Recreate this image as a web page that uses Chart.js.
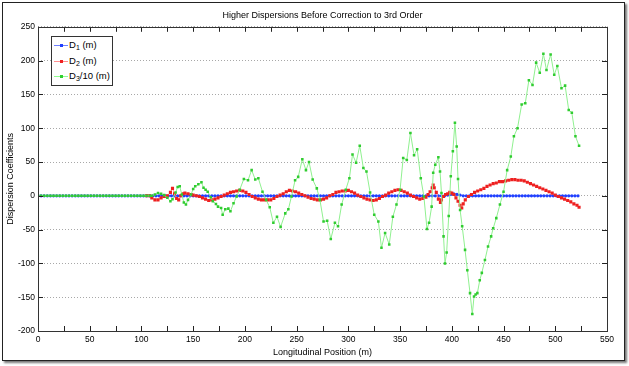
<!DOCTYPE html>
<html>
<head>
<meta charset="utf-8">
<script src="https://cdn.jsdelivr.net/npm/chart.js@4/dist/chart.umd.min.js"></script>
<style>
  body { margin: 0; background: #fff; }
  #wrap { position: relative; width: 629px; height: 366px; font-family: "Liberation Sans", Arial, sans-serif; }
  #frame { position: absolute; left: 2px; top: 2px; width: 621px; height: 357px; border: 1px solid #222; box-shadow: 2px 2px 2px #777; background: #fff; }
  #c { position: absolute; left: 0; top: 0; }
  #legend { position: absolute; left: 51px; top: 36px; width: 60px; height: 48px; border: 1px solid #333; background: #fff; font-size: 9.5px; color: #000; }
  .row { position: absolute; left: 0; height: 14px; width: 60px; }
  .sample { position: absolute; left: 2px; top: 6px; width: 14px; height: 1px; }
  .dot { position: absolute; left: 6px; top: -1px; width: 3px; height: 3px; }
  .lbl { position: absolute; left: 17px; top: 0; white-space: nowrap; line-height: 12px; }
  .lbl sub { font-size: 7px; vertical-align: -2px; line-height: 0; }
</style>
</head>
<body>
<div id="wrap">
  <div id="frame"></div>
  <canvas id="c" width="629" height="366"></canvas>
  <div id="legend">
    <div class="row" style="top:2px"><div class="sample" style="background:#7080ff"><div class="dot" style="background:#2040ff"></div></div><div class="lbl">D<sub>1</sub> (m)</div></div>
    <div class="row" style="top:18px"><div class="sample" style="background:#ff9090"><div class="dot" style="background:#ee2020"></div></div><div class="lbl">D<sub>2</sub> (m)</div></div>
    <div class="row" style="top:33px"><div class="sample" style="background:#90ff90"><div class="dot" style="background:#30d030"></div></div><div class="lbl">D<sub>3</sub>/10 (m)</div></div>
  </div>
</div>
<script>
// tick labels
const xTicks = [0, 50, 100, 150, 200, 250, 300, 350, 400, 450, 500, 550];
const yTicks = [-200, -150, -100, -50, 0, 50, 100, 150, 200, 250];

// D1 (m)
const d1Pos = [
  0,3,6,9,12,15,18,21,24,27,30,33,36,39,42,45,48,51,54,57,
  60,63,66,69,72,75,78,81,84,87,90,93,96,99,102,105,108,111,114,117,
  120,123,126,129,132,135,138,141,144,147,150,153,156,159,162,165,168,171,174,177,
  180,183,186,189,192,195,198,201,204,207,210,213,216,219,222,225,228,231,234,237,
  240,243,246,249,252,255,258,261,264,267,270,273,276,279,282,285,288,291,294,297,
  300,303,306,309,312,315,318,321,324,327,330,333,336,339,342,345,348,351,354,357,
  360,363,366,369,372,375,378,381,384,387,390,393,396,399,402,405,408,411,414,417,
  420,423,426,429,432,435,438,441,444,447,450,453,456,459,462,465,468,471,474,477,
  480,483,486,489,492,495,498,501,504,507,510,513,516,519,522
];
const d1Vals = [
  0,0,0,0,0,0,0,0,0,0,0,0,0,0,0,0,0,0,0,0,
  0,0,0,0,0,0,0,0,0,0,0,0,0,0,0,0,0,0,0,0,
  0,0,0,0,0,0,0,0,0,0,0,0,0,0,0,0,0,0,0,0,
  0,0,0,0,0,0,0,0,0,0,0,0,0,0,0,0,0,0,0,0,
  0,0,0,0,0,0,0,0,0,0,0,0,0,0,0,0,0,0,0,0,
  0,0,0,0,0,0,0,0,0,0,0,0,0,0,0,0,0,0,0,0,
  0,0,0,0,0,0,0,0,0,0,0,0,1,2,3,2,1,0,0,0,
  0,0,0,0,0,0,0,0,0,0,0,0,0,0,0,0,0,0,0,0,
  0,0,0,0,0,0,0,0,0,0,0,0,0,0,0
];

// D2 (m), hidden under D3 before ~105 m
const d2Pos = [
  105,108,110,113,116,119,122,125,128,130,132,134,136,138,140,142,145,148,150,153,156,
  159,162,165,168,171,174,177,180,183,186,189,192,195,198,201,204,207,210,213,216,
  219,222,225,228,231,234,237,240,243,246,249,252,255,258,261,264,267,270,273,276,
  279,282,285,288,291,294,297,300,303,306,309,312,315,318,321,324,327,330,333,336,
  339,342,345,348,351,354,357,360,363,366,369,372,375,377,379,381,382,383,385,387,
  389,390,392,394,396,398,400,402,404,406,408,409.6,411,413,416,419,422,425,428,431,
  434,437,440,443,446,449,452,455,458,461,464,467,470,473,476,479,482,485,488,491,
  494,497,500,503,506,509,512,515,518,521,523
];
const d2Vals = [
  0,0,-3,-6,-6,-3,-1,0,5,11,3,-4,-6,0,3,4,3,2,1,0,-1,
  -3,-5,-7,-6,-5,-3,-1,1,3,5,6,7,8,7,5,2,-1,-3,-5,-6,
  -6,-6,-6,-4,-1,1,3,6,8,7,6,4,2,0,-2,-4,-5,-6,-6,-5,
  -3,0,2,5,6,7,7,8,6,4,1,-1,-3,-5,-6,-7,-6,-4,-1,1,
  4,6,8,9,8,6,4,1,-1,-3,-5,-4,-2,2,6,12,16,12,5,-5,
  -10,-6,-1,2,3,5,4,2,-3,-8,-14,-18,-12,-6,-1,2,5,7,9,11,
  14,16,18,19,21,21,22,23,24,24,23,23,22,20,18,16,14,12,10,8,
  6,4,1,-1,-3,-5,-7,-9,-12,-14,-17
];

// D3/10 (m)
const d3Pos = [
  0,3,6,9,12,15,18,21,24,27,30,33,36,39,42,45,48,51,54,57,
  60,63,66,69,72,75,78,81,84,87,90,93,96,99,102,105,108,
  110,113,116,119,122,125,128,130,133,135,137,139,141,143,145,148,150,152,155,158,
  160,162,164,167,169,172,174,177,178.5,181,184,186,189,192,195,199,203,206.5,210,213,
  217,220.5,224,227.5,231,234.5,239,242,245,248.5,251.5,255.5,259,262,265.5,269.5,272.5,276,279.5,283,
  287,290,293.5,297.5,301,304,307.5,311,314.5,317.5,321,325,329,332,335.5,339.5,343,346.5,350,353,
  356.5,360,363.5,366.5,370,373,376,378,380.5,382,384,387,388.6,390,392,393.4,395,397,399,401,
  403,404.7,406,408,410,412.8,415,417.6,419.8,421.5,423,424.7,427,429,432,435,438,440,443,446.5,
  450,453.5,457,460,463.5,467.5,471,474.5,478,481.5,485,488.5,491.5,495.5,499,502,506,509.5,513,516,
  519.5,523
];
const d3Vals = [
  0,0,0,0,0,0,0,0,0,0,0,0,0,0,0,0,0,0,0,0,
  0,0,0,0,0,0,0,0,0,0,0,0,0,0,0,0,0,
  0,2,4,3,1,-3,-8,-5,5,13,14,2,-10,-13,-6,2,10,14,17,20,
  12,9,6,-2,-8,-12,-16,-18,-28,-20,-19,-23,-11,-1,9,25,23,38,24,26,
  6,-6,-17,-40,-31,-46,-26,-20,-1,23,28,54,38,50,24,11,-6,-38,-37,-64,
  -40,-45,-13,9,26,61,49,74,41,36,5,-28,-38,-77,-55,-72,-31,-13,9,56,
  53,93,60,69,26,-1,-49,-40,-16,34,46,57,36,4,-60,-100,-84,-30,29,66,
  108,73,25,-21,-45,-80,-110,-144,-175,-149,-146,-144,-125,-114,-95,-75,-60,-48,-33,-13,
  6,38,58,88,100,135,137,171,164,197,182,210,186,209,179,192,159,163,127,123,
  88,74
];

function toPoints(xs, ys) {
  return xs.map((x, i) => ({ x: x, y: ys[i] }));
}

// inward ticks and the full box round the plot, like the original figure
const boxTicks = {
  id: "boxTicks",
  afterDraw(chart) {
    const { ctx, chartArea: a, scales } = chart;
    ctx.save();
    ctx.strokeStyle = "#222";
    ctx.lineWidth = 1;
    ctx.beginPath();
    for (let v = 0; v <= 550; v += 25) {
      const px = Math.round(scales.x.getPixelForValue(v)) + 0.5;
      ctx.moveTo(px, a.bottom); ctx.lineTo(px, a.bottom - 5);
      ctx.moveTo(px, a.top); ctx.lineTo(px, a.top + 5);
    }
    yTicks.forEach(v => {
      const py = Math.round(scales.y.getPixelForValue(v)) + 0.5;
      ctx.moveTo(a.left, py); ctx.lineTo(a.left + 5, py);
      ctx.moveTo(a.right, py); ctx.lineTo(a.right - 5, py);
    });
    ctx.stroke();
    ctx.strokeStyle = "#333";
    ctx.strokeRect(Math.round(a.left) + 0.5, Math.round(a.top) + 0.5,
      Math.round(a.right - a.left), Math.round(a.bottom - a.top));
    ctx.restore();
  }
};

const ctx = document.getElementById("c").getContext("2d");
new Chart(ctx, {
  type: "line",
  data: {
    datasets: [
      {
        label: "D1 (m)",
        data: toPoints(d1Pos, d1Vals),
        borderColor: "#7080ff",
        borderWidth: 1,
        pointRadius: 1.6,
        pointBackgroundColor: "#2040ff",
        pointBorderWidth: 0,
        order: 3
      },
      {
        label: "D2 (m)",
        data: toPoints(d2Pos, d2Vals),
        borderColor: "#ff8888",
        borderWidth: 1,
        pointStyle: "rect",
        pointRadius: 2.2,
        pointBackgroundColor: "#ee2020",
        pointBorderWidth: 0,
        order: 2
      },
      {
        label: "D3/10 (m)",
        data: toPoints(d3Pos, d3Vals),
        borderColor: "#90f090",
        borderWidth: 1,
        pointStyle: "rect",
        pointRadius: 1.8,
        pointBackgroundColor: "#30cc30",
        pointBorderWidth: 0,
        order: 1
      }
    ]
  },
  options: {
    responsive: false,
    animation: false,
    devicePixelRatio: 1,
    layout: { padding: { left: 5, right: 22, top: 0, bottom: 8 } },
    plugins: {
      legend: { display: false },
      tooltip: { enabled: false },
      title: {
        display: true,
        fullSize: false,
        text: "Higher Dispersions Before Correction to 3rd Order",
        color: "#000",
        font: { family: "Liberation Sans", size: 9, weight: "normal", lineHeight: 1.2 },
        padding: { top: 10, bottom: 6 }
      }
    },
    scales: {
      x: {
        type: "linear",
        min: 0,
        max: 550,
        afterFit: s => { s.height = 27; },
        afterBuildTicks: s => { s.ticks = xTicks.map(v => ({ value: v })); },
        grid: { display: false, drawTicks: false },
        border: { display: false },
        ticks: { color: "#000", padding: 4, maxRotation: 0, font: { family: "Liberation Sans", size: 8.5 } },
        title: { display: true, text: "Longitudinal Position (m)", color: "#000", padding: 0,
                 font: { family: "Liberation Sans", size: 9, lineHeight: 1.2 } }
      },
      y: {
        min: -200,
        max: 250,
        afterFit: s => { s.width = 33; },
        afterBuildTicks: s => { s.ticks = yTicks.map(v => ({ value: v })); },
        grid: { color: "#a8a8a8", drawTicks: false },
        border: { display: false, dash: [1, 2] },
        ticks: { color: "#000", padding: 3, font: { family: "Liberation Sans", size: 8.5 } },
        title: { display: true, text: "Dispersion Coefficients", color: "#000", padding: 0,
                 font: { family: "Liberation Sans", size: 9, lineHeight: 1.2 } }
      }
    }
  },
  plugins: [boxTicks]
});
</script>
</body>
</html>
